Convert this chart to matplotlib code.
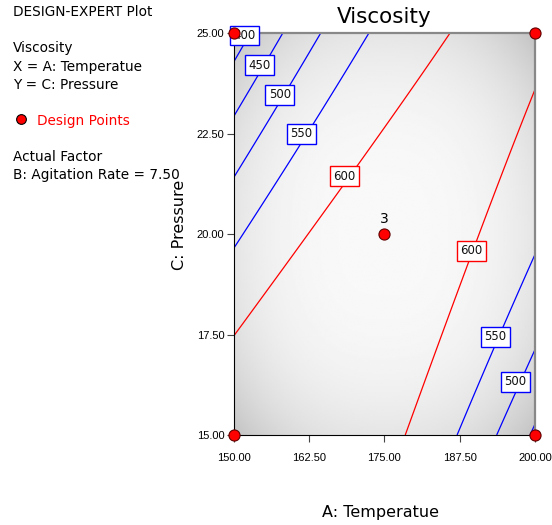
import numpy as np
import matplotlib
matplotlib.use("Agg")
import matplotlib.pyplot as plt

plt.rcParams['font.family'] = ['Liberation Sans', 'DejaVu Sans']

# points: temperature, pressure, viscosity level
contour_T = [150, 152.5, 150, 158.1, 199.2, 200, 150, 164.6, 193.7, 200,
             150, 172.3, 153.2, 187.0, 200, 193.4,
             150, 185.9, 180.9, 156.0, 178.4, 200, 189.2, 197.0]
contour_P = [24.3, 25, 22.9, 25, 15, 15.3, 21.4, 25, 15, 17.1,
             19.65, 25, 20.35, 15, 19.48, 17.2,
             17.5, 25, 23.88, 18.78, 15, 23.66, 19.35, 22.41]
contour_lvl = [400, 400, 450, 450, 450, 450, 500, 500, 500, 500,
               550, 550, 550, 550, 550, 550,
               600, 600, 600, 600, 600, 600, 600, 600]

levels = [400, 450, 500, 550, 600]
level_colors = ['blue', 'blue', 'blue', 'blue', 'red']

# contour label positions (T, P, text)
label_T = [151.8, 154.3, 157.6, 161.2, 168.3, 189.5, 193.4, 196.8]
label_P = [24.94, 24.2, 23.46, 22.49, 21.44, 19.58, 17.44, 16.32]
label_txt = ['400', '450', '500', '550', '600', '600', '550', '500']
label_col = ['blue', 'blue', 'blue', 'blue', 'red', 'red', 'blue', 'blue']

# design points
design_T = [150, 200, 150, 200, 175]
design_P = [25, 25, 15, 15, 20]

# quadratic response surface fitted to the read contour points
def terms(t, p):
    x1 = (np.asarray(t) - 175) / 25
    x2 = (np.asarray(p) - 20) / 5
    return np.stack([np.ones_like(x1), x1, x2, x1 * x2, x1 ** 2, x2 ** 2], axis=-1)

coef, *_ = np.linalg.lstsq(terms(contour_T, contour_P), np.array(contour_lvl, float), rcond=None)

tt, pp = np.meshgrid(np.linspace(150, 200, 300), np.linspace(15, 25, 300))
visc = terms(tt, pp) @ coef

fig = plt.figure(figsize=(5.52, 5.25), dpi=100)
ax = fig.add_axes([0.424, 0.1714, 0.545, 0.7656])

# gray gradient background
u, v = np.meshgrid(np.linspace(-1, 1, 200), np.linspace(-1, 1, 200))
shade = 0.975 - 0.075 * (np.abs(u) ** 3 + np.abs(v) ** 3) - 0.06 * (u * v) ** 2
ax.imshow(shade, extent=[150, 200, 15, 25], origin='lower', cmap='gray',
          vmin=0, vmax=1, aspect='auto', interpolation='bilinear', zorder=0)

ax.contour(tt, pp, visc, levels=levels, colors=level_colors, linewidths=0.9, zorder=2)

for t, p, s, c in zip(label_T, label_P, label_txt, label_col):
    ax.text(t, p, s, ha='center', va='center', fontsize=8.5, color='#111111', zorder=4,
            family='DejaVu Sans',
            bbox=dict(boxstyle='square,pad=0.28', fc='white', ec=c, lw=1))

ax.plot(design_T, design_P, 'o', color='red', mec='#600000', mew=0.8, ms=8,
        clip_on=False, zorder=5)
ax.text(175, 20.37, '3', ha='center', va='center', fontsize=10, family='DejaVu Sans')

ax.set_xlim(150, 200)
ax.set_ylim(15, 25)
ax.set_xticks([150, 162.5, 175, 187.5, 200])
ax.set_yticks([15, 17.5, 20, 22.5, 25])
ax.xaxis.set_major_formatter(matplotlib.ticker.FormatStrFormatter('%.2f'))
ax.yaxis.set_major_formatter(matplotlib.ticker.FormatStrFormatter('%.2f'))
ax.tick_params(direction='out', length=5, labelsize=8, color='#444444')
ax.tick_params(axis='x', pad=8)
ax.tick_params(axis='y', pad=2)
for side in ['top', 'right']:
    ax.spines[side].set_color('#888888')
    ax.spines[side].set_linewidth(1.6)

big = dict(family='DejaVu Sans')
ax.set_xlabel('A: Temperatue', fontsize=11.5, **big)
ax.xaxis.set_label_coords(0.488, -0.175)
ax.set_ylabel('C: Pressure', fontsize=11.5, **big)
ax.yaxis.set_label_coords(-0.155, 0.522)
ax.set_title('Viscosity', fontsize=15.5, pad=7, **big)

side = dict(fontsize=9.8, va='center', family='DejaVu Sans')
fig.text(13 / 552, 1 - 12 / 525, 'DESIGN-EXPERT Plot', **side)
fig.text(13 / 552, 1 - 48 / 525, 'Viscosity', **side)
fig.text(13 / 552, 1 - 67 / 525, 'X = A: Temperatue', **side)
fig.text(13 / 552, 1 - 85 / 525, 'Y = C: Pressure', **side)
fig.text(37 / 552, 1 - 121 / 525, 'Design Points', color='red', **side)
fig.text(13 / 552, 1 - 157 / 525, 'Actual Factor', **side)
fig.text(13 / 552, 1 - 175 / 525, 'B: Agitation Rate = 7.50', **side)
fig.add_artist(matplotlib.lines.Line2D([21 / 552], [1 - 119 / 525], marker='o', color='red',
                                       mec='black', mew=0.8, ms=7, ls='none'))

fig.savefig('out.png', dpi=100)
